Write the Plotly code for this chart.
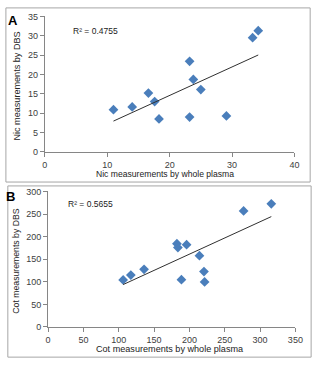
import numpy as np
import plotly.graph_objects as go

# Panel A: nicotine
nic_plasma = [11.0, 14.0, 16.6, 17.6, 18.3, 23.2, 23.2, 23.8, 25.0, 29.1, 33.3, 34.2]
nic_dbs = [10.9, 11.6, 15.2, 13.0, 8.5, 9.0, 23.4, 18.7, 16.1, 9.3, 29.5, 31.3]
nic_r2 = "R² = 0.4755"

# Panel B: cotinine
cot_plasma = [106.2, 117.1, 135.8, 182.3, 183.7, 196.0, 188.7, 214.2, 220.6, 221.5, 276.7, 315.9]
cot_dbs = [104.1, 114.9, 127.8, 184.5, 175.9, 182.3, 104.8, 157.9, 122.8, 99.8, 257.0, 272.8]
cot_r2 = "R² = 0.5655"

W, H = 323, 367
FONT = "Liberation Sans"
BLUE = "#4A7EBB"
AXIS_GREY = "#868686"


def px_x(p):
    return p / W


def px_y(p):
    return 1 - p / H


def trend(xs, ys):
    slope, intercept = np.polyfit(xs, ys, 1)
    x0, x1 = min(xs), max(xs)
    return [x0, x1], [slope * x0 + intercept, slope * x1 + intercept]


fig = go.Figure()

panels = [
    dict(x=nic_plasma, y=nic_dbs, xa="x", ya="y",
         xd=(43.3, 301.7), yd=(11.7, 151.0), xr=[0, 40], yr=[0, 35], xdt=10, ydt=5,
         xt="Nic measurements by whole plasma", yt="Nic measurements by DBS",
         xts=8.6, yts=9.1, xtc=168, ytx=15,
         r2=nic_r2, r2pos=(70, 27), lab="A", labpos=(10, 16), box=(3, 3, 318, 182)),
    dict(x=cot_plasma, y=cot_dbs, xa="x2", ya="y2",
         xd=(46.7, 302.7), yd=(191.7, 331.0), xr=[0, 350], yr=[0, 300], xdt=50, ydt=50,
         xt="Cot measurements by whole plasma", yt="Cot measurements by DBS",
         xts=9.1, yts=8.7, xtc=173, ytx=14,
         r2=cot_r2, r2pos=(65, 205), lab="B", labpos=(8, 197), box=(5, 186, 319, 362)),
]

shapes = []
annotations = []
for i, p in enumerate(panels):
    fig.add_trace(go.Scatter(
        x=p["x"], y=p["y"], mode="markers", xaxis=p["xa"], yaxis=p["ya"],
        marker=dict(symbol="diamond", size=7.5, color=BLUE, line=dict(width=0)),
        showlegend=False, hoverinfo="skip"))
    tx, ty = trend(p["x"], p["y"])
    fig.add_trace(go.Scatter(
        x=tx, y=ty, mode="lines", xaxis=p["xa"], yaxis=p["ya"],
        line=dict(color="#303030", width=1), showlegend=False, hoverinfo="skip"))

    suffix = "" if i == 0 else "2"
    axis_common = dict(showgrid=False, zeroline=False, showline=True, linecolor=AXIS_GREY,
                       linewidth=1, ticks="outside", ticklen=4, tickcolor=AXIS_GREY,
                       tickfont=dict(family=FONT, size=9, color="#404040"))
    fig.layout["xaxis" + suffix] = dict(
        axis_common, domain=[px_x(p["xd"][0]), px_x(p["xd"][1])], range=p["xr"], dtick=p["xdt"],
        anchor="y" + suffix, fixedrange=True)
    fig.layout["yaxis" + suffix] = dict(
        axis_common, domain=[px_y(p["yd"][1]), px_y(p["yd"][0])], range=p["yr"], dtick=p["ydt"],
        anchor="x" + suffix, fixedrange=True)

    annotations.append(dict(text=p["xt"], x=px_x(p["xtc"]), y=px_y(p["yd"][1] + 23), xref="paper", yref="paper",
                            showarrow=False, font=dict(family=FONT, size=p["xts"], color="#222222"),
                            xanchor="center", yanchor="middle"))
    yc = (p["yd"][0] + p["yd"][1]) / 2 + 2
    annotations.append(dict(text=p["yt"], x=px_x(p["ytx"]), y=px_y(yc), xref="paper", yref="paper",
                            showarrow=False, textangle=-90, font=dict(family=FONT, size=p["yts"], color="#222222"),
                            xanchor="center", yanchor="middle"))
    annotations.append(dict(text=p["r2"], x=px_x(p["r2pos"][0]), y=px_y(p["r2pos"][1]), xref="paper", yref="paper",
                            showarrow=False, font=dict(family=FONT, size=8.5, color="#222222"),
                            xanchor="left", yanchor="middle"))
    annotations.append(dict(text="<b>%s</b>" % p["lab"], x=px_x(p["labpos"][0]), y=px_y(p["labpos"][1]),
                            xref="paper", yref="paper", showarrow=False,
                            font=dict(family=FONT, size=13, color="#000000"),
                            xanchor="center", yanchor="middle"))
    bx0, by0, bx1, by1 = p["box"]
    shapes.append(dict(type="rect", xref="paper", yref="paper",
                       x0=px_x(bx0), x1=px_x(bx1), y0=px_y(by1), y1=px_y(by0),
                       line=dict(color="#A6A6A6", width=1), fillcolor="rgba(0,0,0,0)"))

fig.update_layout(width=W, height=H, margin=dict(l=0, r=0, t=0, b=0),
                  paper_bgcolor="white", plot_bgcolor="white",
                  shapes=shapes, annotations=annotations)

fig.write_html("out.html", config={"displayModeBar": False})
